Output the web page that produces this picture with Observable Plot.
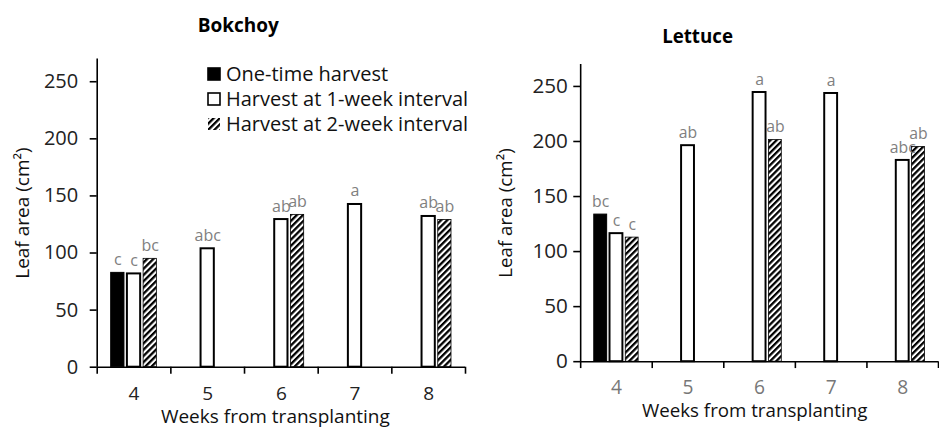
<!DOCTYPE html>
<html>
<head>
<meta charset="utf-8">
<script src="https://cdn.jsdelivr.net/npm/d3@7"></script>
<script src="https://cdn.jsdelivr.net/npm/@observablehq/plot@0.6"></script>
<style>
  html, body { margin: 0; padding: 0; background: #fff; overflow: hidden; }
  #wrap { position: relative; width: 939px; height: 434px; overflow: hidden; font-family: "Open Sans", sans-serif; }
  #left, #right { position: absolute; top: 0; }
  #left { left: 0; }
  #right { left: 480px; }
  #legend { position: absolute; left: 207px; top: 61px; font-size: 20px; color: #111; line-height: 25px; }
  #legend .row { display: flex; align-items: center; height: 25px; white-space: nowrap; }
  #legend svg { margin-right: 5px; }
</style>
</head>
<body>
<div id="wrap">
  <div id="left"></div>
  <div id="right"></div>
  <div id="legend"></div>
</div>
<script>
// ---- data ----
const weeks = [4, 5, 6, 7, 8];
const seriesNames = ["One-time harvest", "Harvest at 1-week interval", "Harvest at 2-week interval"];
const yTicks = [0, 50, 100, 150, 200, 250];

// Bokchoy
const bokOnce = [82.6, null, null, null, null];
const bokWeek1 = [81.7, 103.7, 129.3, 142.5, 132.0];
const bokWeek2 = [94.9, null, 133.4, null, 129.0];
const bokOnceLetters = ["c", null, null, null, null];
const bokWeek1Letters = ["c", "abc", "ab", "a", "ab"];
const bokWeek2Letters = ["bc", null, "ab", null, "ab"];

// Lettuce
const letOnce = [133.6, null, null, null, null];
const letWeek1 = [116.3, 196.2, 244.5, 243.6, 182.8];
const letWeek2 = [112.7, null, 201.3, null, 195.0];
const letOnceLetters = ["bc", null, null, null, null];
const letWeek1Letters = ["c", "ab", "a", "a", "abc"];
const letWeek2Letters = ["c", null, "ab", null, "ab"];

// ---- helpers ----
function buildRows(valueLists, letterLists) {
  const rows = [];
  valueLists.forEach((vals, i) => {
    vals.forEach((v, j) => {
      if (v != null) rows.push({week: weeks[j], series: i, value: v, letter: letterLists[i][j]});
    });
  });
  return rows;
}

const STEP = 0.22, HALF = 0.09;
const boundaries = [3.5, 4.5, 5.5, 6.5, 7.5, 8.5];

function chart(opts) {
  const rows = buildRows(opts.values, opts.letters);
  const pid = "hatch-" + opts.id;
  const fills = ["#000", "#fff", `url(#${pid})`];
  const strokeW = [1, 2, 0.8];
  const pos = d => d.week + (d.series - 1) * STEP;
  const svg = Plot.plot({
    width: opts.width,
    height: 434,
    marginLeft: opts.marginLeft,
    marginRight: opts.marginRight,
    marginTop: opts.marginTop,
    marginBottom: 67.3,
    style: {fontFamily: "Open Sans, sans-serif", background: "transparent", overflow: "visible"},
    x: {domain: [3.5, 8.5]},
    y: {domain: [0, 270]},
    marks: [
      Plot.rectY(rows, {
        x1: d => pos(d) - HALF, x2: d => pos(d) + HALF,
        y1: 0, y2: "value",
        fill: d => fills[d.series], stroke: "#000",
        strokeWidth: d => strokeW[d.series]
      }),
      Plot.text(rows, {
        x: pos, y: "value", text: "letter",
        dy: -8, lineAnchor: "bottom", fill: "#808080", fontSize: 16
      }),
      Plot.ruleY([0], {stroke: "#000", strokeWidth: 1.6}),
      Plot.ruleX([3.5], {y1: 0, y2: 270, stroke: "#000", strokeWidth: 1.6}),
      Plot.axisY(yTicks, {
        tickSize: 7, tickPadding: opts.yPad, fontSize: opts.yFont,
        stroke: "#000", fill: "#222", strokeWidth: 1.6, label: null
      }),
      Plot.axisX(boundaries, {
        tickSize: 7, tickFormat: () => "", stroke: "#000", strokeWidth: 1.6, label: null
      }),
      Plot.axisX(weeks, {
        tickSize: 0, tickPadding: 19, fontSize: opts.xFont, fill: opts.xColor, label: null
      }),
      Plot.text([opts.yTitle], {
        frameAnchor: "left", textAnchor: "middle", lineAnchor: "middle",
        dx: opts.yTitleDx, rotate: -90,
        fontSize: 19, fill: "#111"
      }),
      Plot.text([opts.xTitle], {
        frameAnchor: "bottom", textAnchor: "middle", lineAnchor: "middle",
        dx: opts.xTitleDx, dy: 50,
        fontSize: 19, fill: "#111"
      }),
      Plot.text([opts.title], {
        frameAnchor: "top", textAnchor: "middle", lineAnchor: "middle",
        dx: opts.titleDx, dy: opts.titleDy,
        fontSize: 19, fontWeight: "bold", fill: "#000"
      })
    ]
  });
  const defs = d3.select(svg).insert("defs", ":first-child");
  const p = defs.append("pattern")
    .attr("id", pid).attr("patternUnits", "userSpaceOnUse")
    .attr("width", 4.4).attr("height", 4.4)
    .attr("patternTransform", "rotate(45)");
  p.append("rect").attr("width", 4.4).attr("height", 4.4).attr("fill", "#fff");
  p.append("rect").attr("width", 2.3).attr("height", 4.4).attr("fill", "#000");
  return svg;
}

document.getElementById("left").appendChild(chart({
  id: "bok", width: 480, marginLeft: 96.7, marginRight: 15, marginTop: 58.4,
  values: [bokOnce, bokWeek1, bokWeek2],
  letters: [bokOnceLetters, bokWeek1Letters, bokWeek2Letters],
  yPad: 12, yFont: 20, xFont: 19, xColor: "#222",
  yTitle: "Leaf area (cm²)", yTitleDx: -74,
  xTitle: "Weeks from transplanting", xTitleDx: -6,
  title: "Bokchoy", titleDx: -43, titleDy: -33
}));

document.getElementById("right").appendChild(chart({
  id: "let", width: 466, marginLeft: 101.7, marginRight: 1, marginTop: 64.9,
  values: [letOnce, letWeek1, letWeek2],
  letters: [letOnceLetters, letWeek1Letters, letWeek2Letters],
  yPad: 6, yFont: 21, xFont: 19.5, xColor: "#777",
  yTitle: "Leaf area (cm²)", yTitleDx: -76,
  xTitle: "Weeks from transplanting", xTitleDx: -5,
  title: "Lettuce", titleDx: -63, titleDy: -28
}));

// ---- legend ----
const legend = d3.select("#legend");
seriesNames.forEach((name, i) => {
  const row = legend.append("div").attr("class", "row");
  const s = row.append("svg").attr("width", 14).attr("height", 14);
  if (i === 2) {
    const p = s.append("defs").append("pattern")
      .attr("id", "hatch-legend").attr("patternUnits", "userSpaceOnUse")
      .attr("width", 4.4).attr("height", 4.4).attr("patternTransform", "rotate(45)");
    p.append("rect").attr("width", 4.4).attr("height", 4.4).attr("fill", "#fff");
    p.append("rect").attr("width", 2.3).attr("height", 4.4).attr("fill", "#000");
  }
  s.append("rect")
    .attr("x", 1).attr("y", 1).attr("width", 12).attr("height", 12)
    .attr("fill", ["#000", "#fff", "url(#hatch-legend)"][i])
    .attr("stroke", i === 2 ? "none" : "#000").attr("stroke-width", 1.6);
  row.append("span").text(name);
});
</script>
</body>
</html>
